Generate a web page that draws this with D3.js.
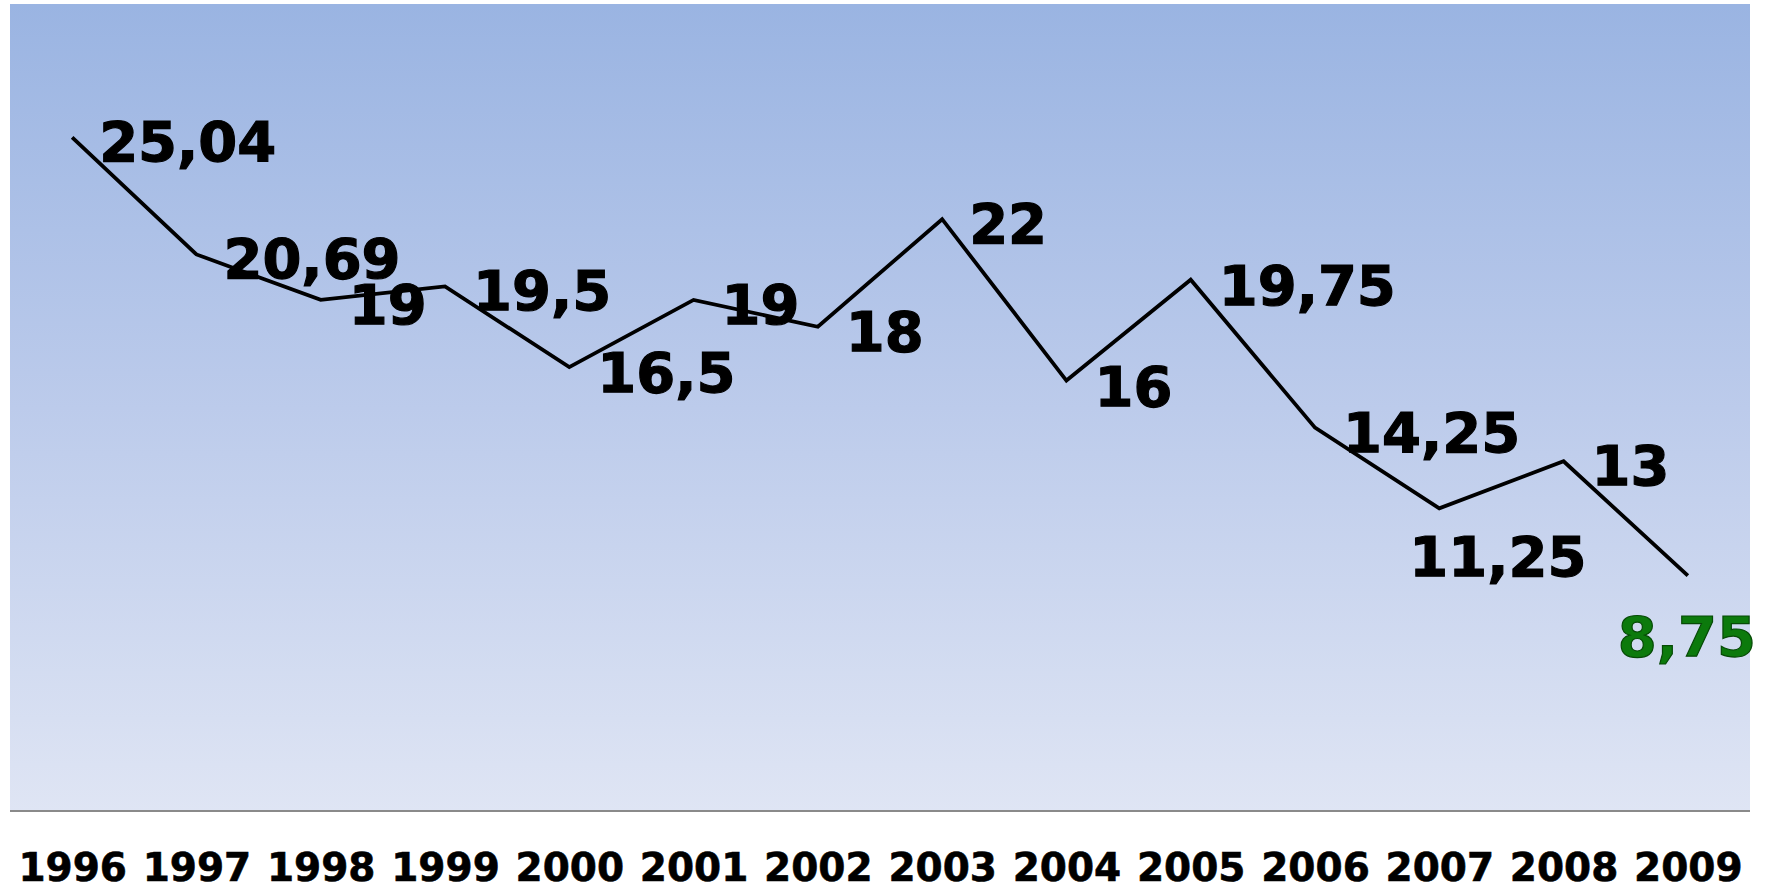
<!DOCTYPE html>
<html>
<head>
<meta charset="utf-8">
<script src="https://cdn.jsdelivr.net/npm/d3@7"></script>
<style>
  html, body { margin: 0; padding: 0; background: #ffffff; }
  svg { display: block; }
</style>
</head>
<body>
<svg id="chart" width="1778" height="888"></svg>
<script>
// ---- data ----
const years = ["1996","1997","1998","1999","2000","2001","2002","2003","2004","2005","2006","2007","2008","2009"];
const values = [25.04, 20.69, 19, 19.5, 16.5, 19, 18, 22, 16, 19.75, 14.25, 11.25, 13, 8.75];
const valueLabels = ["25,04","20,69","19","19,5","16,5","19","18","22","16","19,75","14,25","11,25","13","8,75"];

// ---- label placement (layout, not data) ----
const labelDx = [27, 27, 28, 28, 28, 28, 28, 27, 28, 28, 28, -30, 28, -70];
const labelDy = [4, 4, 4, 4, 5, 4, 4, 4, 5, 5, 4, 48, 4, 60];

const W = 1778, H = 888;
const plot = { left: 10, right: 1750, top: 4, bottom: 811 };

const svg = d3.select("#chart");
const defs = svg.append("defs");
const grad = defs.append("linearGradient")
  .attr("id", "bg").attr("x1", 0).attr("y1", 0).attr("x2", 0).attr("y2", 1);
grad.append("stop").attr("offset", "0%").attr("stop-color", "#9ab4e2");
grad.append("stop").attr("offset", "50%").attr("stop-color", "#bccbeb");
grad.append("stop").attr("offset", "100%").attr("stop-color", "#dfe5f4");

svg.append("rect")
  .attr("x", plot.left).attr("y", plot.top)
  .attr("width", plot.right - plot.left).attr("height", plot.bottom - plot.top)
  .attr("fill", "url(#bg)");

const x = d3.scalePoint().domain(years).range([plot.left, plot.right]).padding(0.5);
const y = d3.scaleLinear().domain([0, 30]).range([plot.bottom, plot.top]);

// x axis
const xAxis = d3.axisBottom(x).tickSize(0).tickPadding(0);
const gx = svg.append("g").attr("transform", `translate(0,${plot.bottom})`).call(xAxis);
gx.select(".domain").attr("stroke", "#8a8a8a").attr("stroke-width", 2.2)
  .attr("d", `M${plot.left},0H${plot.right}`);
gx.selectAll(".tick text")
  .attr("y", 70)
  .attr("dy", 0)
  .attr("fill", "#000")
  .attr("stroke", "#000")
  .attr("stroke-width", 0.6)
  .style("font-family", "'DejaVu Sans', Verdana, sans-serif")
  .style("font-weight", "bold")
  .style("font-size", "39px");

// line
const line = d3.line().x((d, i) => x(years[i])).y(d => y(d));
svg.append("path")
  .datum(values)
  .attr("d", line)
  .attr("fill", "none")
  .attr("stroke", "#000")
  .attr("stroke-width", 3.8)
  .attr("stroke-linejoin", "miter");

// data labels
svg.append("g").selectAll("text")
  .data(values)
  .join("text")
  .attr("x", (d, i) => x(years[i]) + labelDx[i])
  .attr("y", (d, i) => y(d) + labelDy[i] + 20)
  .text((d, i) => valueLabels[i])
  .attr("fill", (d, i) => i === values.length - 1 ? "#0c7a0c" : "#000")
  .attr("stroke", (d, i) => i === values.length - 1 ? "#064a06" : "#000")
  .attr("stroke-width", 1.2)
  .style("font-family", "'DejaVu Sans', Verdana, sans-serif")
  .style("font-weight", "bold")
  .style("font-size", "56px");
</script>
</body>
</html>
